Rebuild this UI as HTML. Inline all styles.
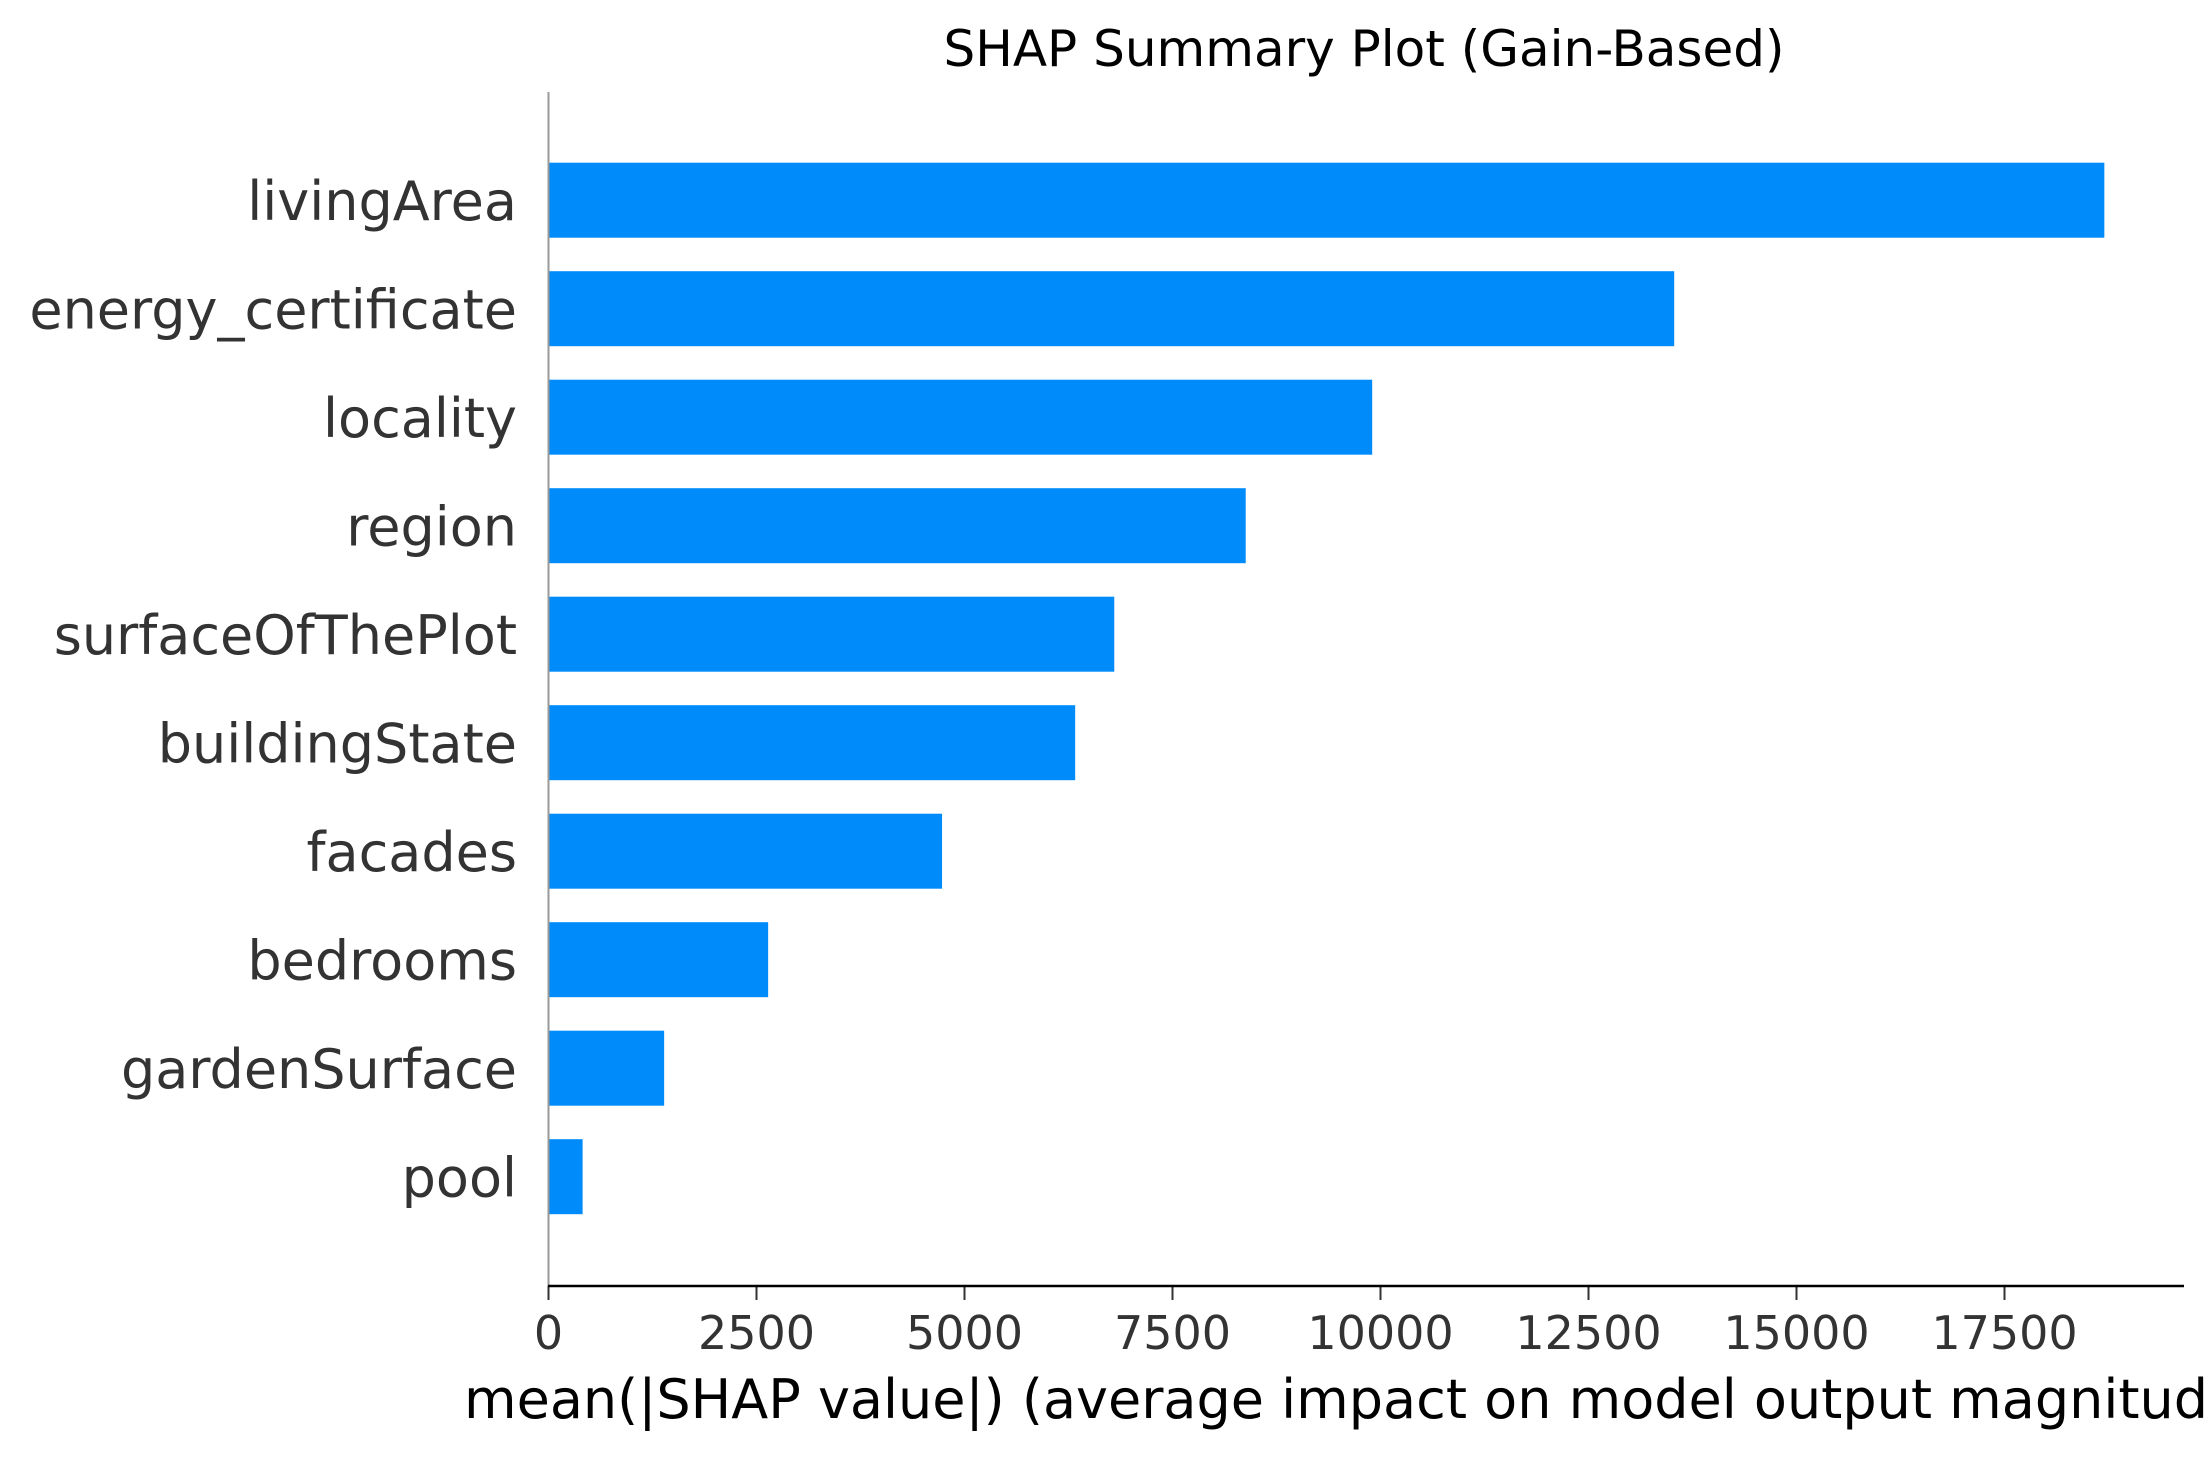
<!DOCTYPE html>
<html><head><meta charset="utf-8"><style>
html,body{margin:0;padding:0;background:#fff;}
svg{display:block;font-family:"DejaVu Sans","Liberation Sans",sans-serif;}
</style></head><body>
<svg id="chart" width="2210" height="1460" viewBox="0 0 2210 1460" xmlns="http://www.w3.org/2000/svg">
<text x="1364" y="66" font-size="50" text-anchor="middle" fill="#000">SHAP Summary Plot (Gain-Based)</text>
<g id="bars"></g>
<g id="ylabels"></g>
<g id="xaxis"></g>
<line x1="548.5" y1="92" x2="548.5" y2="1286" stroke="#999" stroke-width="2"/>
<line x1="548" y1="1286" x2="2184" y2="1286" stroke="#000" stroke-width="2.5"/>
<text x="464" y="1418" font-size="54" fill="#000">mean(|SHAP value|) (average impact on model output magnitude)</text>
</svg>
<script>
const features = ["livingArea","energy_certificate","locality","region","surfaceOfThePlot","buildingState","facades","bedrooms","gardenSurface","pool"];
const values = [18700,13530,9900,8380,6800,6330,4730,2640,1390,410];
const ticks = [0,2500,5000,7500,10000,12500,15000,17500];
const tickLabels = ["0","2500","5000","7500","10000","12500","15000","17500"];

const NS="http://www.w3.org/2000/svg";
const x0=548.5, pxPer=208/2500;
const xs=v=>x0+v*pxPer;
const rowTop=200.2, rowStep=108.5, barH=75;
const ys=i=>rowTop+i*rowStep;
const bars=document.getElementById('bars'), yl=document.getElementById('ylabels'), xa=document.getElementById('xaxis');
features.forEach((f,i)=>{
  const r=document.createElementNS(NS,'rect');
  r.setAttribute('x',x0);r.setAttribute('y',ys(i)-barH/2);
  r.setAttribute('width',xs(values[i])-x0);r.setAttribute('height',barH);
  r.setAttribute('fill','#008bfb');
  
  
  bars.appendChild(r);
  const t=document.createElementNS(NS,'text');
  t.setAttribute('x',517);t.setAttribute('y',ys(i)+20);
  t.setAttribute('text-anchor','end');t.setAttribute('font-size','54');t.setAttribute('fill','#333');
  t.textContent=f;
  
  
  yl.appendChild(t);
});
ticks.forEach((v,i)=>{
  const l=document.createElementNS(NS,'line');
  l.setAttribute('x1',xs(v));l.setAttribute('x2',xs(v));l.setAttribute('y1',1286);l.setAttribute('y2',1300);
  l.setAttribute('stroke','#333');l.setAttribute('stroke-width','2');
  
  
  xa.appendChild(l);
  const t=document.createElementNS(NS,'text');
  t.setAttribute('x',xs(v));t.setAttribute('y',1349);
  t.setAttribute('text-anchor','middle');t.setAttribute('font-size','46');t.setAttribute('fill','#333');
  t.textContent=tickLabels[i];
  
  
  xa.appendChild(t);
});
</script>
</body></html>
